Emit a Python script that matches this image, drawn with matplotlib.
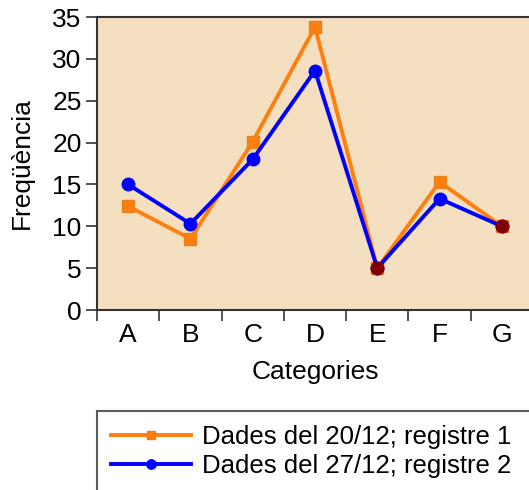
import matplotlib
matplotlib.use("Agg")
import matplotlib.pyplot as plt
import numpy as np

categories = ["A", "B", "C", "D", "E", "F", "G"]
registre1 = [12.4, 8.5, 20.1, 33.8, 5.0, 15.3, 10.0]
registre2 = [15.0, 10.3, 18.0, 28.6, 5.0, 13.3, 10.0]
label1 = "Dades del 20/12; registre 1"
label2 = "Dades del 27/12; registre 2"
yticks = [0, 5, 10, 15, 20, 25, 30, 35]
highlight_idx = [4, 6]

plt.rcParams['font.family'] = ['Liberation Sans', 'DejaVu Sans']

fig = plt.figure(figsize=(5.29, 4.90), dpi=100)
ax = fig.add_axes([97/529, (490-310)/490, 436/529, 293/490])
ax.set_facecolor('#F4E0C1')

x = np.arange(len(categories))
ax.plot(x, registre1, color='#FF7F0E', lw=2.8, marker='s', ms=8, mec='#E8801A', mfc='#FF7F0E', label=label1, zorder=3)
ax.plot(x, registre2, color='#0000FF', lw=2.8, marker='o', ms=9, mfc='#0000FF', mec='#0000FF', label=label2, zorder=4)
hx = [x[i] for i in highlight_idx]
hy = [registre2[i] for i in highlight_idx]
ax.plot(hx, hy, ls='none', marker='o', ms=9, color='#7F0000', zorder=5)

ax.set_xlim(-0.5, len(categories) - 0.5)
ax.set_ylim(0, 35)
ax.set_yticks(yticks)
ax.set_xticks(x)
ax.set_xticklabels(categories)
ax.set_xticks(np.arange(-0.5, len(categories) + 0.5, 1), minor=True)
ax.tick_params(axis='x', which='major', length=0, pad=9, labelsize=19)
ax.tick_params(axis='x', which='minor', length=8, width=1.2, color='#333333')
ax.tick_params(axis='y', length=8, width=1.2, color='#333333', pad=3, labelsize=19)
for s in ['left', 'bottom', 'top']:
    ax.spines[s].set_linewidth(1.5)
    ax.spines[s].set_color('#333333')
ax.spines['right'].set_visible(False)

ax.set_xlabel("Categories", fontsize=19, labelpad=10)
ax.set_ylabel("Freqüència", fontsize=19, labelpad=13)

leg = fig.legend(loc='upper left', bbox_to_anchor=(97/529, (490-411)/490, 0.9, 0.0),
                 mode='expand', borderaxespad=0, fontsize=18.5, handlelength=3.1,
                 markerscale=0.75, frameon=True, fancybox=False, edgecolor='#333333',
                 borderpad=0.55, labelspacing=0.17, handletextpad=0.45)
leg.get_frame().set_linewidth(1.5)

fig.savefig("out.png", dpi=100)
